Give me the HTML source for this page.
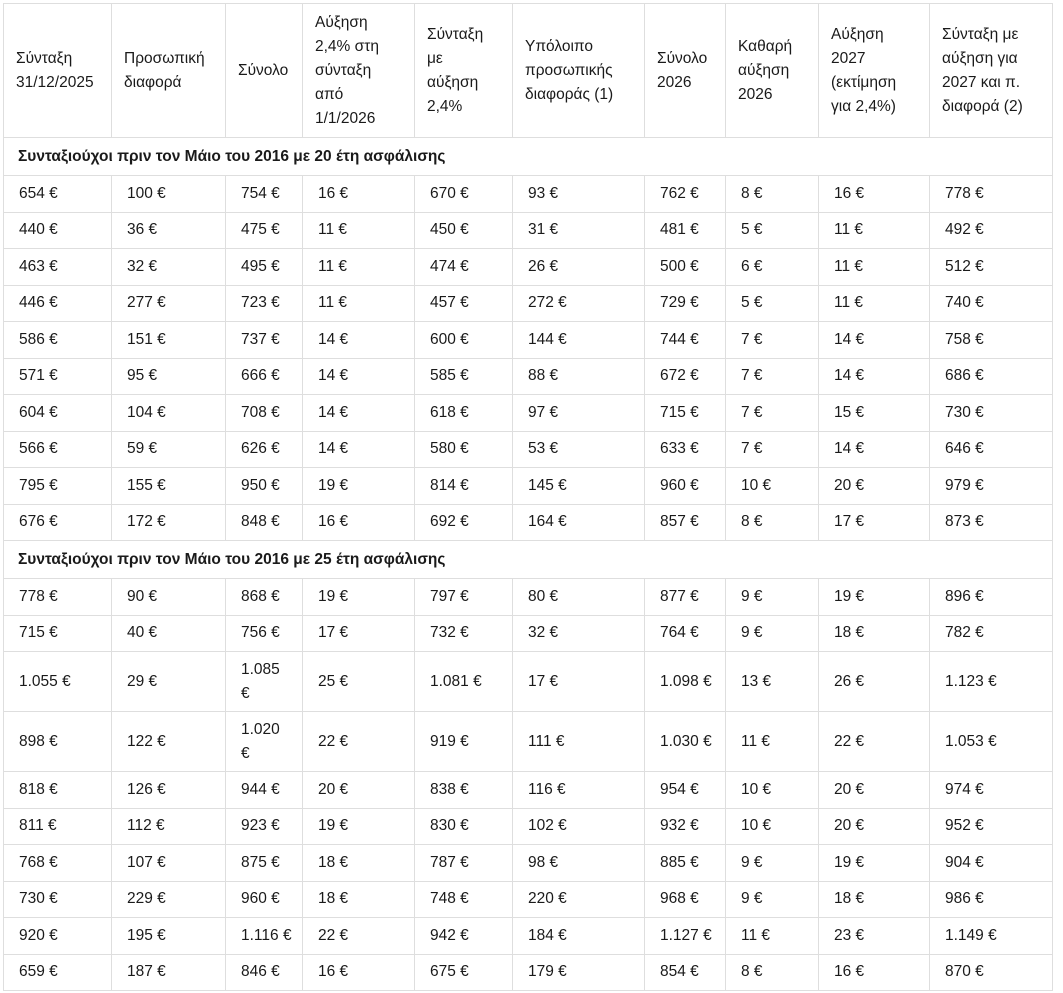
<!DOCTYPE html>
<html><head><meta charset="utf-8"><style>
body{margin:0;background:#fff;}
table{position:absolute;left:3px;top:3px;border-collapse:collapse;table-layout:fixed;width:1049px;font-family:"Liberation Sans","DejaVu Sans",sans-serif;font-size:15.5px;color:#1a1a1a;}
td{border:1px solid #dedede;padding:0 4px 0 12px;vertical-align:middle;line-height:24px;overflow:hidden;white-space:nowrap;}
tr.h td{height:133px;}
tr.s td{height:37px;font-weight:bold;padding-left:14px;}
tr.r td{height:35.5px;padding-left:15px;}
tr.t td{height:59px;padding-left:15px;}
</style></head><body>
<table>
<colgroup><col style="width:108px"><col style="width:114px"><col style="width:77px"><col style="width:112px"><col style="width:98px"><col style="width:132px"><col style="width:81px"><col style="width:93px"><col style="width:111px"><col style="width:123px"></colgroup>
<tr class="h"><td>Σύνταξη<br>31/12/2025</td><td>Προσωπική<br>διαφορά</td><td>Σύνολο</td><td>Αύξηση<br>2,4% στη<br>σύνταξη<br>από<br>1/1/2026</td><td>Σύνταξη<br>με<br>αύξηση<br>2,4%</td><td>Υπόλοιπο<br>προσωπικής<br>διαφοράς (1)</td><td>Σύνολο<br>2026</td><td>Καθαρή<br>αύξηση<br>2026</td><td>Αύξηση<br>2027<br>(εκτίμηση<br>για 2,4%)</td><td>Σύνταξη με<br>αύξηση για<br>2027 και π.<br>διαφορά (2)</td></tr>
<tr class="s"><td colspan="10">Συνταξιούχοι πριν τον Μάιο του 2016 με 20 έτη ασφάλισης</td></tr>
<tr class="r"><td>654 €</td><td>100 €</td><td>754 €</td><td>16 €</td><td>670 €</td><td>93 €</td><td>762 €</td><td>8 €</td><td>16 €</td><td>778 €</td></tr>
<tr class="r"><td>440 €</td><td>36 €</td><td>475 €</td><td>11 €</td><td>450 €</td><td>31 €</td><td>481 €</td><td>5 €</td><td>11 €</td><td>492 €</td></tr>
<tr class="r"><td>463 €</td><td>32 €</td><td>495 €</td><td>11 €</td><td>474 €</td><td>26 €</td><td>500 €</td><td>6 €</td><td>11 €</td><td>512 €</td></tr>
<tr class="r"><td>446 €</td><td>277 €</td><td>723 €</td><td>11 €</td><td>457 €</td><td>272 €</td><td>729 €</td><td>5 €</td><td>11 €</td><td>740 €</td></tr>
<tr class="r"><td>586 €</td><td>151 €</td><td>737 €</td><td>14 €</td><td>600 €</td><td>144 €</td><td>744 €</td><td>7 €</td><td>14 €</td><td>758 €</td></tr>
<tr class="r"><td>571 €</td><td>95 €</td><td>666 €</td><td>14 €</td><td>585 €</td><td>88 €</td><td>672 €</td><td>7 €</td><td>14 €</td><td>686 €</td></tr>
<tr class="r"><td>604 €</td><td>104 €</td><td>708 €</td><td>14 €</td><td>618 €</td><td>97 €</td><td>715 €</td><td>7 €</td><td>15 €</td><td>730 €</td></tr>
<tr class="r"><td>566 €</td><td>59 €</td><td>626 €</td><td>14 €</td><td>580 €</td><td>53 €</td><td>633 €</td><td>7 €</td><td>14 €</td><td>646 €</td></tr>
<tr class="r"><td>795 €</td><td>155 €</td><td>950 €</td><td>19 €</td><td>814 €</td><td>145 €</td><td>960 €</td><td>10 €</td><td>20 €</td><td>979 €</td></tr>
<tr class="r"><td>676 €</td><td>172 €</td><td>848 €</td><td>16 €</td><td>692 €</td><td>164 €</td><td>857 €</td><td>8 €</td><td>17 €</td><td>873 €</td></tr>
<tr class="s"><td colspan="10">Συνταξιούχοι πριν τον Μάιο του 2016 με 25 έτη ασφάλισης</td></tr>
<tr class="r"><td>778 €</td><td>90 €</td><td>868 €</td><td>19 €</td><td>797 €</td><td>80 €</td><td>877 €</td><td>9 €</td><td>19 €</td><td>896 €</td></tr>
<tr class="r"><td>715 €</td><td>40 €</td><td>756 €</td><td>17 €</td><td>732 €</td><td>32 €</td><td>764 €</td><td>9 €</td><td>18 €</td><td>782 €</td></tr>
<tr class="t"><td>1.055 €</td><td>29 €</td><td>1.085<br>€</td><td>25 €</td><td>1.081 €</td><td>17 €</td><td>1.098 €</td><td>13 €</td><td>26 €</td><td>1.123 €</td></tr>
<tr class="t"><td>898 €</td><td>122 €</td><td>1.020<br>€</td><td>22 €</td><td>919 €</td><td>111 €</td><td>1.030 €</td><td>11 €</td><td>22 €</td><td>1.053 €</td></tr>
<tr class="r"><td>818 €</td><td>126 €</td><td>944 €</td><td>20 €</td><td>838 €</td><td>116 €</td><td>954 €</td><td>10 €</td><td>20 €</td><td>974 €</td></tr>
<tr class="r"><td>811 €</td><td>112 €</td><td>923 €</td><td>19 €</td><td>830 €</td><td>102 €</td><td>932 €</td><td>10 €</td><td>20 €</td><td>952 €</td></tr>
<tr class="r"><td>768 €</td><td>107 €</td><td>875 €</td><td>18 €</td><td>787 €</td><td>98 €</td><td>885 €</td><td>9 €</td><td>19 €</td><td>904 €</td></tr>
<tr class="r"><td>730 €</td><td>229 €</td><td>960 €</td><td>18 €</td><td>748 €</td><td>220 €</td><td>968 €</td><td>9 €</td><td>18 €</td><td>986 €</td></tr>
<tr class="r"><td>920 €</td><td>195 €</td><td>1.116 €</td><td>22 €</td><td>942 €</td><td>184 €</td><td>1.127 €</td><td>11 €</td><td>23 €</td><td>1.149 €</td></tr>
<tr class="r"><td>659 €</td><td>187 €</td><td>846 €</td><td>16 €</td><td>675 €</td><td>179 €</td><td>854 €</td><td>8 €</td><td>16 €</td><td>870 €</td></tr>
</table>
</body></html>
